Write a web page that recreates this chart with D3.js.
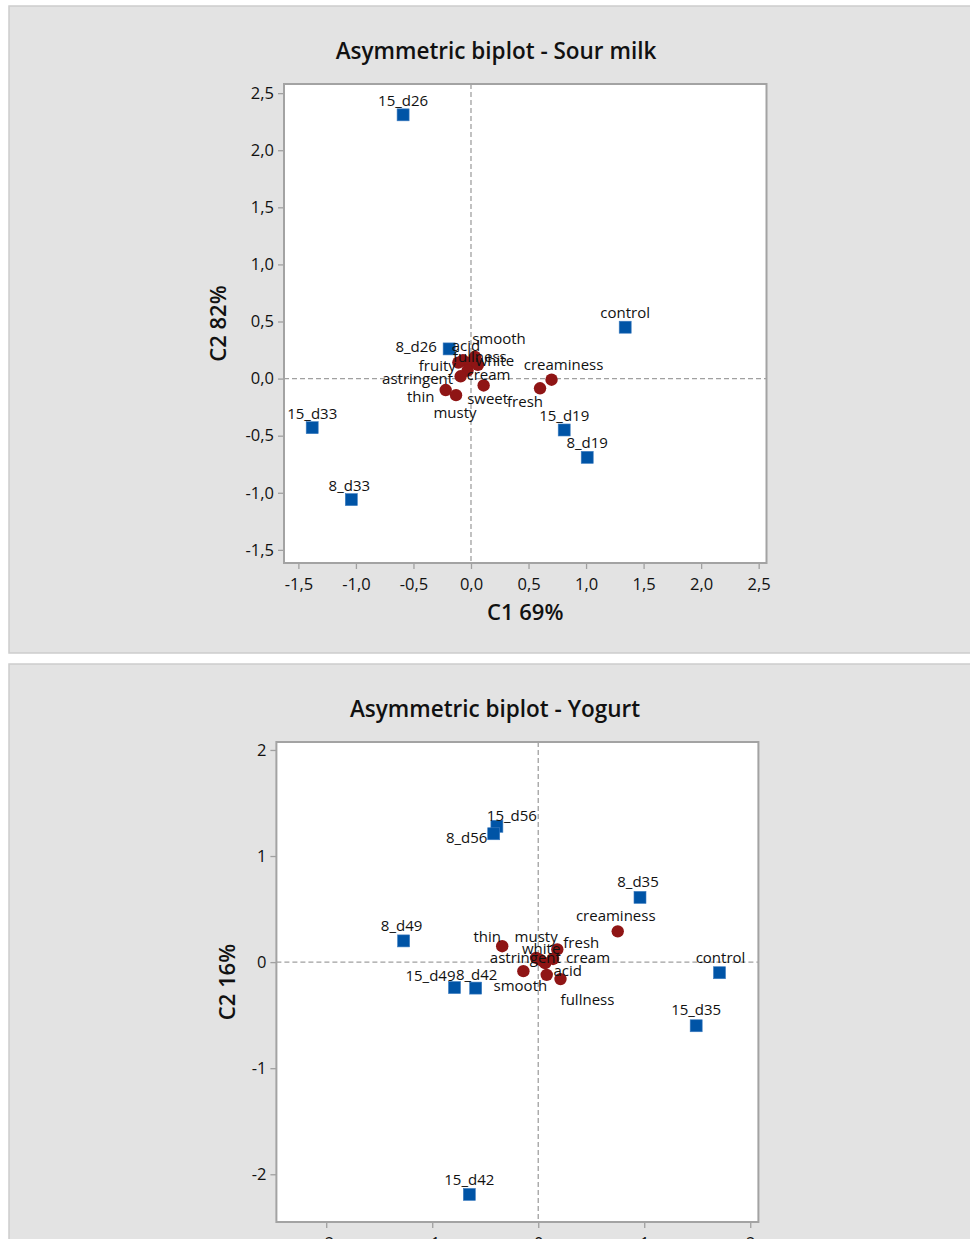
<!DOCTYPE html>
<html><head><meta charset="utf-8">
<script src="https://cdn.jsdelivr.net/npm/d3@7"></script>
<style>
html,body{margin:0;padding:0;background:#fff;overflow:hidden}
text{font-family:"Open Sans","Noto Sans",sans-serif}
</style></head>
<body>
<svg id="chart" width="970" height="1239"></svg>
<script>
// ---------- DATA ----------
// Sour milk
const sourProducts = ["15_d26","control","8_d26","15_d33","15_d19","8_d19","8_d33"];
const sourProdC1   = [-0.59, 1.34, -0.19, -1.38, 0.81, 1.01, -1.04];
const sourProdC2   = [2.31, 0.45, 0.26, -0.43, -0.45, -0.69, -1.06];
const sourAttrs = ["acid","smooth","fullness","white","fruity","cream","astringent","thin","musty","sweet","fresh","creaminess"];
const sourAttrC1 = [-0.07, 0.035, -0.01, 0.06, -0.11, -0.03, -0.09, -0.22, -0.13, 0.11, 0.60, 0.70];
const sourAttrC2 = [0.16, 0.19, 0.14, 0.12, 0.14, 0.07, 0.02, -0.10, -0.145, -0.06, -0.085, -0.01];
const sourXTicks = [-1.5,-1.0,-0.5,0.0,0.5,1.0,1.5,2.0,2.5];
const sourXTickLabels = ["-1,5","-1,0","-0,5","0,0","0,5","1,0","1,5","2,0","2,5"];
const sourYTicks = [2.5,2.0,1.5,1.0,0.5,0.0,-0.5,-1.0,-1.5];
const sourYTickLabels = ["2,5","2,0","1,5","1,0","0,5","0,0","-0,5","-1,0","-1,5"];

// Yogurt
const yogProducts = ["15_d56","8_d56","8_d35","8_d49","control","15_d49","8_d42","15_d35","15_d42"];
const yogProdC1   = [-0.39, -0.42, 0.96, -1.27, 1.71, -0.79, -0.59, 1.49, -0.65];
const yogProdC2   = [1.28, 1.21, 0.61, 0.20, -0.10, -0.24, -0.245, -0.60, -2.19];
const yogAttrs = ["thin","musty","white","fresh","astringent","cream","acid","smooth","fullness","creaminess"];
const yogAttrC1 = [-0.34, -0.02, 0.065, 0.18, 0.02, 0.14, 0.08, -0.14, 0.21, 0.75];
const yogAttrC2 = [0.15, 0.04, -0.01, 0.12, 0.02, 0.03, -0.12, -0.085, -0.16, 0.29];
const yogXTicks = [-2,-1,0,1,2];
const yogXTickLabels = ["-2","-1","0","1","2"];
const yogYTicks = [2,1,0,-1,-2];
const yogYTickLabels = ["2","1","0","-1","-2"];

// ---------- LAYOUT (label offsets in px, not data) ----------
const sourProdLabelOff = [[0,-15],[0,-15],[-33,-3],[0,-15],[0,-15],[0,-15],[-2,-15]];
const sourAttrLabelOff = [[3,-15],[24,-19],[10,-7],[17,-5],[-21,2],[21,3],[-43,2],[-25,6],[-1,17],[4,13],[-15,13],[12,-16]];
const yogProdLabelOff = [[15,-11],[-27,3],[-2,-16],[-2,-16],[1,-16],[-24,-13],[1,-14],[0,-17],[0,-15]];
const yogAttrLabelOff = [[-15,-10],[0,-22],[-4,-15],[24,-7],[-15,-3],[35,-2],[21,-5],[-3,14],[27,20],[-2,-16]];

const BLUE = "#0054a6", RED = "#8f1515", FRAME = "#a3a3a3";
const svg = d3.select("#chart");

function panel(cfg){
  const g = svg.append("g");
  g.append("rect").attr("x",cfg.bx).attr("y",cfg.by).attr("width",cfg.bw).attr("height",cfg.bh)
    .attr("fill","#e3e3e3").attr("stroke","#cdcdcd").attr("stroke-width",1.5);
  const x = d3.scaleLinear().domain(cfg.xd).range([cfg.l, cfg.r]);
  const y = d3.scaleLinear().domain(cfg.yd).range([cfg.t, cfg.b]);
  g.append("rect").attr("x",cfg.l).attr("y",cfg.t).attr("width",cfg.r-cfg.l).attr("height",cfg.b-cfg.t)
    .attr("fill","#fff");
  // reference lines
  g.append("line").attr("x1",x(0)).attr("x2",x(0)).attr("y1",cfg.t).attr("y2",cfg.b)
    .attr("stroke","#a0a0a0").attr("stroke-width",1.3).attr("stroke-dasharray","5,3");
  g.append("line").attr("x1",cfg.l).attr("x2",cfg.r).attr("y1",y(0)).attr("y2",y(0))
    .attr("stroke","#a0a0a0").attr("stroke-width",1.3).attr("stroke-dasharray","5,3");
  // axes
  const xa = d3.axisBottom(x).tickValues(cfg.xt).tickFormat((d,i)=>cfg.xtl[i]).tickSize(6).tickPadding(9);
  const ya = d3.axisLeft(y).tickValues(cfg.yt).tickFormat((d,i)=>cfg.ytl[i]).tickSize(6).tickPadding(4);
  const gx = g.append("g").attr("transform",`translate(0,${cfg.b})`).call(xa);
  const gy = g.append("g").attr("transform",`translate(${cfg.l},0)`).call(ya);
  [gx,gy].forEach(a=>{
    a.select(".domain").remove();
    a.selectAll(".tick line").attr("stroke","#a0a0a0").attr("stroke-width",1.3);
    a.selectAll(".tick text").attr("fill","#111").style("font-size","16.5px").style("font-weight","500")
      .style("font-family",'"Open Sans",sans-serif');
  });
  // frame
  g.append("rect").attr("x",cfg.l).attr("y",cfg.t).attr("width",cfg.r-cfg.l).attr("height",cfg.b-cfg.t)
    .attr("fill","none").attr("stroke",FRAME).attr("stroke-width",2);
  // title & axis labels
  g.append("text").attr("x",cfg.titleX).attr("y",cfg.titleY).attr("text-anchor","middle")
    .style("font-size","22.5px").style("font-weight","600").attr("fill","#111").text(cfg.title);
  if(cfg.xlabel) g.append("text").attr("x",(cfg.l+cfg.r)/2).attr("y",cfg.xlabelY).attr("text-anchor","middle")
    .style("font-size","22px").style("font-weight","600").attr("fill","#111").text(cfg.xlabel);
  g.append("text").attr("transform",`translate(${cfg.ylabelX},${(cfg.t+cfg.b)/2}) rotate(-90)`)
    .attr("text-anchor","middle").style("font-size","22px").style("font-weight","600").attr("fill","#111").text(cfg.ylabel);
  // attributes (circles)
  const attrs = cfg.attrs.map((n,i)=>({n, c1:cfg.ac1[i], c2:cfg.ac2[i], off:cfg.aoff[i]}));
  const prods = cfg.prods.map((n,i)=>({n, c1:cfg.pc1[i], c2:cfg.pc2[i], off:cfg.poff[i]}));
  g.selectAll(".pt").data(prods).enter().append("rect")
    .attr("x",d=>x(d.c1)-6).attr("y",d=>y(d.c2)-6).attr("width",12).attr("height",12)
    .attr("fill",BLUE).attr("stroke","#3d7cc0").attr("stroke-width",0.6);
  g.selectAll(".at").data(attrs).enter().append("circle")
    .attr("cx",d=>x(d.c1)).attr("cy",d=>y(d.c2)).attr("r",6.2).attr("fill",RED);
  const lab = prods.concat(attrs);
  g.selectAll(".lb").data(lab).enter().append("text")
    .attr("x",d=>x(d.c1)+d.off[0]).attr("y",d=>y(d.c2)+d.off[1])
    .attr("text-anchor","middle").attr("dominant-baseline","central")
    .style("font-size","15px").attr("fill","#111").text(d=>d.n);
}

panel({bx:9,by:6,bw:975,bh:647,
  l:284,r:766.5,t:84,b:563, xd:[-1.625,2.568], yd:[2.58,-1.615],
  xt:sourXTicks, xtl:sourXTickLabels, yt:sourYTicks, ytl:sourYTickLabels,
  title:"Asymmetric biplot - Sour milk", titleX:496, titleY:59,
  xlabel:"C1 69%", xlabelY:620, ylabel:"C2 82%", ylabelX:226,
  prods:sourProducts, pc1:sourProdC1, pc2:sourProdC2, poff:sourProdLabelOff,
  attrs:sourAttrs, ac1:sourAttrC1, ac2:sourAttrC2, aoff:sourAttrLabelOff});

panel({bx:9,by:664,bw:975,bh:600,
  l:276.4,r:758.4,t:742,b:1222, xd:[-2.47,2.077], yd:[2.075,-2.45],
  xt:yogXTicks, xtl:yogXTickLabels, yt:yogYTicks, ytl:yogYTickLabels,
  title:"Asymmetric biplot - Yogurt", titleX:495, titleY:717,
  xlabel:null, ylabel:"C2 16%", ylabelX:235,
  prods:yogProducts, pc1:yogProdC1, pc2:yogProdC2, poff:yogProdLabelOff,
  attrs:yogAttrs, ac1:yogAttrC1, ac2:yogAttrC2, aoff:yogAttrLabelOff});
</script>
</body></html>
